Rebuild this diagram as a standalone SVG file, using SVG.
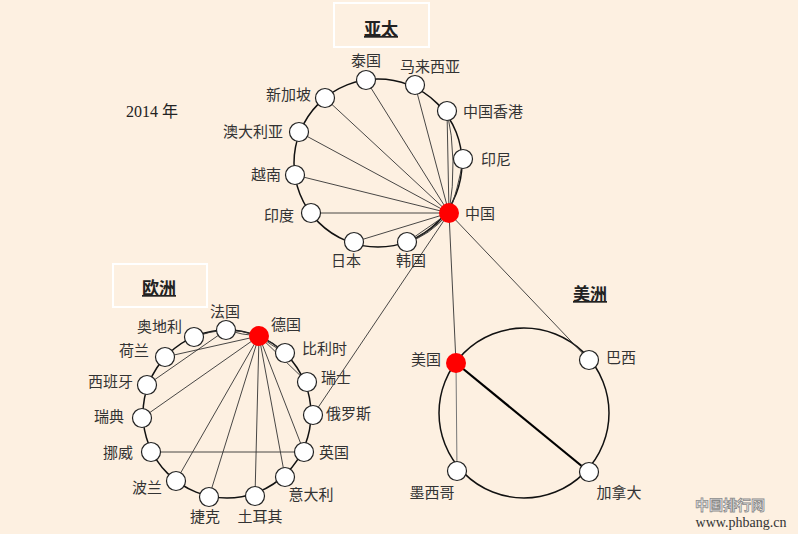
<svg xmlns="http://www.w3.org/2000/svg" width="798" height="534" viewBox="0 0 798 534">
<style>
.lbl{font-family:"Liberation Sans","Noto Sans CJK SC",sans-serif;font-size:15px;fill:#333}
.ttl{font-family:"Liberation Sans","Noto Sans CJK SC",sans-serif;font-size:17px;font-weight:bold;fill:#222;text-decoration:underline}
.ring{fill:none;stroke:#111;stroke-width:1.5}
.e{stroke:#333;stroke-width:0.9;fill:none}
.n{fill:#fff;stroke:#222;stroke-width:1.2}
.hub{fill:#ff0000;stroke:none}
.box{fill:none;stroke:#fff;stroke-width:2}
</style>
<rect width="798" height="534" fill="#fdf0e1"/>
<text x="126" y="117" style="font-family:'Liberation Serif','Noto Sans CJK SC',serif;font-size:16px;fill:#222">2014 年</text>
<g id="title-asia"><rect class="box" x="334" y="3" width="95" height="44"/><text class="ttl" x="381" y="35" text-anchor="middle">亚太</text></g>
<g id="title-europe"><rect class="box" x="113" y="264" width="94" height="43"/><text class="ttl" x="159" y="294" text-anchor="middle">欧洲</text></g>
<g id="title-america"><text class="ttl" x="590" y="300" text-anchor="middle">美洲</text></g>
<g id="rings">
<circle class="ring" cx="378" cy="163" r="84"/>
<circle class="ring" cx="227" cy="414" r="84"/>
<circle class="ring" cx="524" cy="413" r="85"/>
</g>
<g id="connectors">
<line class="e" x1="449" y1="213" x2="366" y2="80"/>
<line class="e" x1="449" y1="213" x2="415" y2="85"/>
<line class="e" x1="449" y1="213" x2="447" y2="111"/>
<path class="e" d="M447 111 Q458 160 449 213"/>
<line class="e" x1="449" y1="213" x2="325" y2="98"/>
<line class="e" x1="449" y1="213" x2="299" y2="132"/>
<line class="e" x1="449" y1="213" x2="295" y2="175"/>
<line class="e" x1="449" y1="213" x2="311" y2="213"/>
<line class="e" x1="449" y1="213" x2="354" y2="242"/>
<line class="e" x1="449" y1="213" x2="407" y2="242"/>
<path class="e" d="M449 213 Q430 233 407 242"/>
<path class="e" d="M449 213 Q428 237 407 242"/>
<path class="e" d="M463 159 Q458 190 449 213"/>
<line class="e" x1="449" y1="213" x2="313" y2="415"/>
<line class="e" x1="449" y1="213" x2="456" y2="363"/>
<line class="e" x1="449" y1="213" x2="589" y2="360"/>
<path class="e" d="M226 330 Q242 330 259 336"/>
<path class="e" d="M226 330 Q242 335 259 336"/>
<path class="e" d="M194 337 Q210 331 226 330"/>
<line class="e" x1="259" y1="336" x2="165" y2="357"/>
<line class="e" x1="226" y1="330" x2="147" y2="385"/>
<line class="e" x1="259" y1="336" x2="142" y2="418"/>
<line class="e" x1="259" y1="336" x2="176" y2="481"/>
<line class="e" x1="259" y1="336" x2="209" y2="497"/>
<line class="e" x1="259" y1="336" x2="255" y2="496"/>
<line class="e" x1="259" y1="336" x2="285" y2="477"/>
<line class="e" x1="259" y1="336" x2="304" y2="452"/>
<path class="e" d="M259 336 Q273 342 285 353"/>
<path class="e" d="M259 336 Q271 345 285 353"/>
<line class="e" x1="259" y1="336" x2="307" y2="382"/>
<line class="e" x1="151" y1="452" x2="304" y2="452"/>
<line x1="456" y1="363" x2="457" y2="471" stroke="#777" stroke-width="1"/>
<line x1="456" y1="363" x2="589" y2="472" stroke="#000" stroke-width="2.2"/>
</g>
<g id="nodes">
<g id="n-thailand"><circle class="n" cx="366" cy="80" r="9.5"/><text class="lbl" x="366" y="66" text-anchor="middle">泰国</text></g>
<g id="n-malaysia"><circle class="n" cx="415" cy="85" r="9.5"/><text class="lbl" x="430" y="72" text-anchor="middle">马来西亚</text></g>
<g id="n-hongkong"><circle class="n" cx="447" cy="111" r="9.5"/><text class="lbl" x="463" y="117">中国香港</text></g>
<g id="n-indonesia"><circle class="n" cx="463" cy="159" r="9.5"/><text class="lbl" x="481" y="165">印尼</text></g>
<g id="n-china"><circle class="hub" cx="449" cy="213" r="10"/><text class="lbl" x="465" y="219">中国</text></g>
<g id="n-korea"><circle class="n" cx="407" cy="242" r="9.5"/><text class="lbl" x="411" y="266" text-anchor="middle">韩国</text></g>
<g id="n-japan"><circle class="n" cx="354" cy="242" r="9.5"/><text class="lbl" x="346" y="266" text-anchor="middle">日本</text></g>
<g id="n-india"><circle class="n" cx="311" cy="213" r="9.5"/><text class="lbl" x="294" y="221" text-anchor="end">印度</text></g>
<g id="n-vietnam"><circle class="n" cx="295" cy="175" r="9.5"/><text class="lbl" x="281" y="180" text-anchor="end">越南</text></g>
<g id="n-australia"><circle class="n" cx="299" cy="132" r="9.5"/><text class="lbl" x="283" y="137" text-anchor="end">澳大利亚</text></g>
<g id="n-singapore"><circle class="n" cx="325" cy="98" r="9.5"/><text class="lbl" x="311" y="100" text-anchor="end">新加坡</text></g>
<g id="n-france"><circle class="n" cx="226" cy="330" r="9.5"/><text class="lbl" x="225" y="317" text-anchor="middle">法国</text></g>
<g id="n-germany"><circle class="hub" cx="259" cy="336" r="10"/><text class="lbl" x="271" y="330">德国</text></g>
<g id="n-austria"><circle class="n" cx="194" cy="337" r="9.5"/><text class="lbl" x="182" y="332" text-anchor="end">奥地利</text></g>
<g id="n-netherlands"><circle class="n" cx="165" cy="357" r="9.5"/><text class="lbl" x="149" y="356" text-anchor="end">荷兰</text></g>
<g id="n-spain"><circle class="n" cx="147" cy="385" r="9.5"/><text class="lbl" x="133" y="387" text-anchor="end">西班牙</text></g>
<g id="n-sweden"><circle class="n" cx="142" cy="418" r="9.5"/><text class="lbl" x="124" y="422" text-anchor="end">瑞典</text></g>
<g id="n-norway"><circle class="n" cx="151" cy="452" r="9.5"/><text class="lbl" x="133" y="458" text-anchor="end">挪威</text></g>
<g id="n-poland"><circle class="n" cx="176" cy="481" r="9.5"/><text class="lbl" x="162" y="493" text-anchor="end">波兰</text></g>
<g id="n-czech"><circle class="n" cx="209" cy="497" r="9.5"/><text class="lbl" x="205" y="522" text-anchor="middle">捷克</text></g>
<g id="n-turkey"><circle class="n" cx="255" cy="496" r="9.5"/><text class="lbl" x="260" y="522" text-anchor="middle">土耳其</text></g>
<g id="n-italy"><circle class="n" cx="285" cy="477" r="9.5"/><text class="lbl" x="311" y="500" text-anchor="middle">意大利</text></g>
<g id="n-uk"><circle class="n" cx="304" cy="452" r="9.5"/><text class="lbl" x="319" y="458">英国</text></g>
<g id="n-russia"><circle class="n" cx="313" cy="415" r="9.5"/><text class="lbl" x="326" y="419">俄罗斯</text></g>
<g id="n-switzerland"><circle class="n" cx="307" cy="382" r="9.5"/><text class="lbl" x="321" y="383">瑞士</text></g>
<g id="n-belgium"><circle class="n" cx="285" cy="353" r="9.5"/><text class="lbl" x="302" y="354">比利时</text></g>
<g id="n-usa"><circle class="hub" cx="456" cy="363" r="10"/><text class="lbl" x="441" y="365" text-anchor="end">美国</text></g>
<g id="n-brazil"><circle class="n" cx="589" cy="360" r="9.5"/><text class="lbl" x="606" y="363">巴西</text></g>
<g id="n-canada"><circle class="n" cx="589" cy="472" r="9.5"/><text class="lbl" x="619" y="498" text-anchor="middle">加拿大</text></g>
<g id="n-mexico"><circle class="n" cx="457" cy="471" r="9.5"/><text class="lbl" x="432" y="498" text-anchor="middle">墨西哥</text></g>
</g>
<g id="watermark">
<text x="730" y="510" text-anchor="middle" style="font-family:'Noto Sans CJK SC',sans-serif;font-size:14px;font-weight:bold;fill:#f4f4f4;stroke:#8a8a8a;stroke-width:0.8">中国排行网</text>
<text x="741" y="527" text-anchor="middle" style="font-family:'Liberation Serif',serif;font-size:14px;fill:#333">www.phbang.cn</text>
</g>
</svg>
